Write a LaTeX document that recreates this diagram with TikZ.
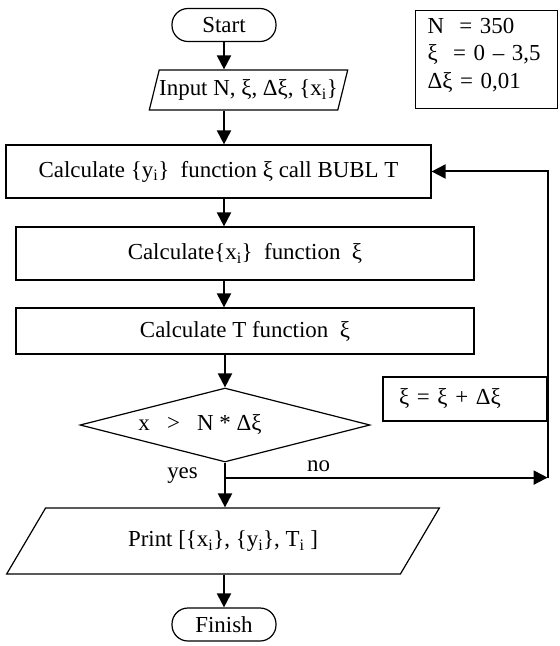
\documentclass[tikz,border=0pt]{standalone}
\usepackage{fontspec}
\setmainfont{Liberation Serif}
\usepackage{tikz}
\usetikzlibrary{arrows.meta, positioning, shapes.geometric}
\newcommand{\sub}[1]{\textsubscript{#1}}
\tikzset{
  term/.style   = {draw, line width=1.2bp, rounded corners=16bp, minimum width=104bp,
                   minimum height=33bp, inner sep=0pt},
  proc/.style   = {draw, line width=1.2bp, minimum height=53bp, inner sep=0pt},
  io/.style     = {draw, line width=1.2bp, trapezium, trapezium stretches=true, inner sep=0pt},
  decide/.style = {draw, line width=1.2bp, diamond, aspect=3.9, minimum width=290bp,
                   minimum height=74bp, inner sep=0pt},
  note/.style   = {draw, line width=1.2bp, align=left, minimum width=142bp, minimum height=98bp,
                   text width=118bp, inner xsep=12bp, text depth=68bp},
  flow/.style   = {-{Triangle[length=14bp, width=14bp]}, line width=2bp},
  lbl/.style    = {inner sep=1pt}
}

\begin{document}
\begin{tikzpicture}[x=1bp, y=-1bp, font=\fontsize{23}{27.5}\selectfont]
  \useasboundingbox (0,0) rectangle (560,646);

  \node[term] (start) at (224,25) {Start};
  \node[io, minimum width=181bp, minimum height=40bp,
        trapezium left angle=64.6, trapezium right angle=115.4] (input) at (248.5,90)
       {Input N, ξ, Δξ, \{x\sub{i}\}};
  \node[proc, minimum width=425bp] (calcy) at (218.5,171.5)
       {Calculate \{y\sub{i}\}\ \ function ξ call BUBL T};
  \node[proc, minimum width=458bp] (calcx) at (245,253.5)
       {Calculate\{x\sub{i}\}\ \ function\ \ ξ};
  \node[proc, minimum width=458bp, minimum height=46bp] (calct) at (245,331)
       {Calculate T function\ \ ξ};
  \node[decide] (test) at (225,425) {x\ \ \ >\ \ \ N * Δξ\hspace*{50bp}};
  \node[proc, minimum width=164bp, minimum height=44bp, align=left, text width=132bp,
        inner xsep=16bp] (incr) at (465,399) {ξ = ξ + Δξ};
  \node[io, minimum width=434bp, minimum height=66bp,
        trapezium left angle=45, trapezium right angle=135] (print) at (223,541)
       {Print [\{x\sub{i}\}, \{y\sub{i}\}, T\sub{i} ]};
  \node[term] (finish) at (224,624.5) {Finish};

  \node[note, anchor=north west] (param) at (415,10)
       {N\ \ = 350\\ξ\ \ = 0 – 3,5\\Δξ = 0,01};

  % main column
  \draw[flow] (start.south) -- (start.south |- input.north);
  \draw[flow] (input.south -| start) -- (calcy.north -| start);
  \draw[flow] (calcy.south -| start) -- (calcx.north -| start);
  \draw[flow] (calcx.south -| start) -- (calct.north -| start);
  \draw[flow] (calct.south -| test) -- (test.north);
  \draw[flow] (test.south) -- (test.south |- print.north);
  \draw[flow] (print.south -| finish) -- (finish.north);

  % loop back
  \path (test.south) ++(0,15) coordinate (fork);
  \node[lbl, left=26bp of fork, yshift=2bp] (yes) {yes};
  \draw[flow] (fork) -- node[lbl, pos=0.29, above=4bp] {no} (fork -| incr.east);
  \draw[flow] (fork -| incr.east) |- (calcy.east);
\end{tikzpicture}
\end{document}
